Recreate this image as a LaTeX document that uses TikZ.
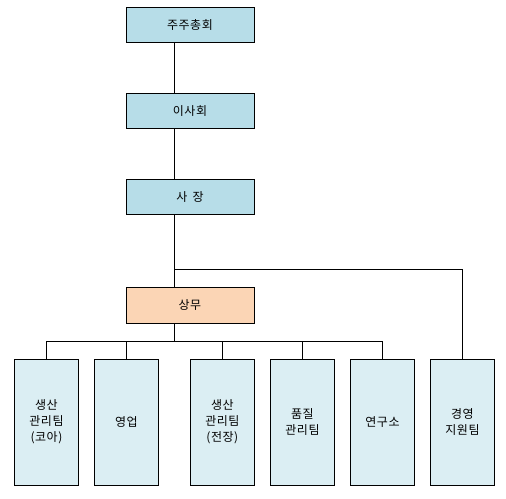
\documentclass[tikz,border=0pt]{standalone}
\usepackage{fontspec}
\newfontfamily\kr[LetterSpace=4]{Noto Sans CJK KR}
\definecolor{topblue}{HTML}{B7DDE8}
\definecolor{peach}{HTML}{FBD5B5}
\definecolor{paleblue}{HTML}{DBEEF3}
\tikzset{
  orgbox/.style={draw=black, line width=1pt, inner sep=0pt, align=center,
    font=\kr\fontsize{12}{16}\selectfont},
  topbox/.style={orgbox, fill=topblue, minimum width=128pt, minimum height=35pt},
  midbox/.style={orgbox, fill=peach, minimum width=128pt, minimum height=36pt},
  teambox/.style={orgbox, fill=paleblue, minimum width=64pt, minimum height=126pt},
  link/.style={draw=black, line width=1pt}
}
\begin{document}
\begin{tikzpicture}[x=1pt,y=-1pt]
\useasboundingbox (0,0) rectangle (506,498);
\node[topbox] (gm) at (190,24.8) {주주총회};
\node[topbox] (board) at (190,111) {이사회};
\node[topbox] (ceo) at (190,197) {사\hspace{0.45em}장};
\node[midbox] (exec) at (190,305.3) {상무};
\node[teambox] (t1) at (46.5,422) {생산\\관리팀\\(코아)};
\node[teambox] (t2) at (126.5,422) {영업};
\node[teambox] (t3) at (222.3,422) {생산\\관리팀\\(전장)};
\node[teambox] (t4) at (302.5,422) {품질\\관리팀};
\node[teambox] (t5) at (382.5,422) {연구소};
\node[teambox] (t6) at (462.5,422) {경영\\지원팀};
\coordinate (spine) at (174.3,0);
\coordinate (rbus) at (174.3,269.3);
\coordinate (bbus) at (174.3,341.3);
\draw[link] (gm.south -| spine) -- (board.north -| spine);
\draw[link] (board.south -| spine) -- (ceo.north -| spine);
\draw[link] (ceo.south -| spine) -- (exec.north -| spine);
\draw[link] (rbus) -| (t6.north);
\draw[link] (exec.south -| spine) -- (bbus);
\draw[link] (t1.north) |- (bbus);
\draw[link] (t5.north) |- (bbus);
\draw[link] (t2.north) -- (t2.north |- bbus);
\draw[link] (t3.north) -- (t3.north |- bbus);
\draw[link] (t4.north) -- (t4.north |- bbus);
\end{tikzpicture}
\end{document}
